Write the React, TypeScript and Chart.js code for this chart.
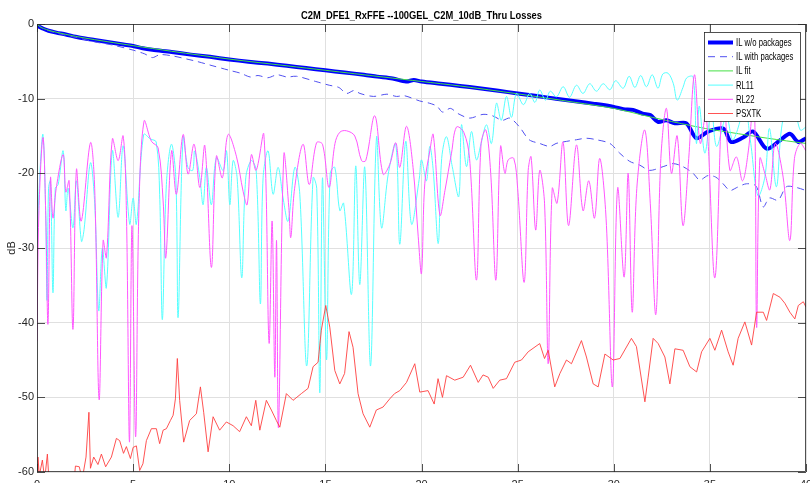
import React, { useEffect, useRef } from 'react';
import { Chart, registerables } from 'chart.js';

Chart.register(...registerables);

const TITLE = 'C2M_DFE1_RxFFE --100GEL_C2M_10dB_Thru Losses';
const Y_LABEL = 'dB';
const X_MIN = 0;
const X_MAX = 40;
const X_STEP = 5;
const Y_MIN = -60;
const Y_MAX = 0;
const Y_STEP = 10;
const SERIES_NAMES = ['IL w/o packages', 'IL with packages', 'IL fit', 'RL11', 'RL22', 'PSXTK'];

type P = [number, number];

const IL_WO: P[] = [
  [0, 0], [0.1, -0.35], [0.3, -0.6], [0.6, -0.9], [1, -1.15], [1.5, -1.4], [2, -1.7], [2.5, -1.95],
  [3, -2.15], [3.5, -2.35], [4, -2.55], [4.5, -2.75], [5, -2.95], [5.5, -3.25], [6, -3.45], [7, -3.75],
  [8, -4.1], [9, -4.4], [10, -4.75], [11, -5.05], [12, -5.3], [13, -5.6], [14, -5.9], [15, -6.2],
  [16, -6.5], [17, -6.8], [17.7, -7.05], [18.5, -7.3], [19.2, -7.7], [19.6, -7.5], [20, -7.7], [21, -8.0],
  [22, -8.3], [23, -8.6], [24, -8.95], [25, -9.3], [26, -9.65], [27, -10.0], [28, -10.35], [29, -10.7],
  [30, -11.1], [30.5, -11.4], [31, -11.5], [31.5, -12.0], [31.9, -12.2], [32.3, -13.1], [32.74, -12.9],
  [33.18, -13.3], [33.78, -13.3], [34.3, -15.3], [34.9, -14.4], [35.7, -14.0], [36.1, -15.8], [36.73, -15.2],
  [37.25, -14.4], [37.95, -16.7], [38.64, -15.6], [39.16, -14.7], [39.6, -15.8], [40, -15.3],
];

const IL_WITH: P[] = [
  [0, 0], [0.3, -0.6], [1, -1.2], [2.2, -1.9], [3, -2.4], [3.9, -2.8], [5, -3.5], [5.6, -4.0],
  [6.0, -4.5], [6.4, -4.1], [7.1, -4.3], [7.8, -4.7], [8.3, -5.0], [9, -5.5], [10, -6.2], [10.6, -6.6],
  [11.1, -7.1], [11.5, -6.9], [12.0, -7.2], [12.5, -6.8], [13.0, -7.1], [13.5, -7.0], [14.5, -7.7],
  [15.2, -8.2], [15.7, -8.5], [16.1, -9.3], [16.5, -8.9], [16.8, -9.3], [17.5, -9.7], [18.2, -9.4],
  [18.7, -9.7], [19.1, -9.6], [19.9, -10.3], [20.4, -10.6], [20.8, -11.0], [21.1, -11.8], [21.5, -11.3],
  [21.9, -12.0], [22.5, -12.6], [23.2, -12.1], [23.7, -12.3], [24.2, -12.9], [24.6, -12.6], [25.1, -13.8],
  [25.6, -15.5], [26.15, -16.0], [26.67, -16.4], [27.0, -16.0], [27.36, -15.8], [28.06, -15.5],
  [28.58, -15.3], [29.1, -15.5], [29.8, -16.0], [30.31, -17.3], [30.83, -18.4], [31.35, -18.9],
  [31.87, -19.6], [32.57, -19.1], [33.09, -18.7], [33.6, -19.1], [34.13, -20.0], [34.47, -20.9],
  [34.9, -20.3], [35.3, -20.5], [35.69, -21.4], [36.04, -22.3], [36.4, -21.9], [36.9, -21.4],
  [37.4, -21.7], [37.77, -24.5], [38.1, -23.3], [38.55, -23.6], [38.98, -21.8], [39.5, -21.9], [40, -22.3],
];

const IL_FIT: P[] = [
  [0, 0], [0.2, -0.45], [0.5, -0.75], [1, -1.1], [2, -1.65], [3, -2.1], [5, -2.9], [7, -3.65],
  [10, -4.7], [13, -5.6], [15, -6.2], [18, -7.1], [20, -7.7], [22, -8.3], [25, -9.35], [28, -10.5],
  [30, -11.3], [32, -12.5], [34, -13.6], [35, -14.1], [36, -14.5], [38, -15.3], [40, -16.0],
];

const RL11: P[] = [
  [0, -29.5], [0.15, -20], [0.31, -14.8], [0.45, -25], [0.52, -37], [0.6, -22], [0.7, -21], [0.83, -36],
  [0.95, -22], [1.1, -21.5], [1.36, -17], [1.5, -25], [1.62, -22], [1.87, -27.3], [2.05, -21], [2.31, -29.1],
  [2.45, -27.5], [2.78, -18.6], [3.0, -24], [3.21, -38.4], [3.4, -30], [3.61, -35.3], [3.92, -17],
  [4.22, -25.9], [4.48, -16.3], [4.82, -26.8], [5.0, -23.3], [5.17, -26.8], [5.55, -14.8], [5.9, -15.4],
  [6.2, -15.8], [6.38, -22.8], [6.52, -39.6], [6.73, -21.5], [6.99, -16.1], [7.22, -20.6], [7.34, -39.3],
  [7.6, -15.2], [7.85, -19.2], [8.1, -19.6], [8.2, -17], [8.47, -20.6], [8.64, -24.2], [8.81, -19.2],
  [9.07, -24.2], [9.33, -17.9], [9.68, -19.6], [9.86, -17], [10.03, -24.2], [10.2, -18.3], [10.41, -20.6],
  [10.65, -34], [10.86, -20.6], [11.15, -18.3], [11.4, -19.6], [11.62, -37.5], [11.76, -20.6], [12.02, -17],
  [12.28, -22.8], [12.54, -19.2], [12.8, -23.3], [13.06, -26.4], [13.41, -19.2], [13.67, -22.8],
  [14.03, -45.8], [14.36, -20.6], [14.55, -22], [14.71, -49.4], [14.85, -20.6], [15.06, -45], [15.25, -20],
  [15.49, -19.2], [15.75, -25], [15.95, -24], [16.36, -36.2], [16.58, -19], [16.79, -34.9], [17.05, -19.2],
  [17.35, -45.8], [17.66, -15.2], [17.92, -27.3], [18.27, -20.1], [18.66, -16.1], [18.87, -29.5],
  [19.18, -15.7], [19.48, -26.8], [19.88, -20.8], [20.0, -18.2], [20.26, -21], [20.43, -16.4],
  [20.61, -19.6], [20.87, -29.4], [21.05, -18], [21.3, -15.1], [21.6, -19.1], [21.94, -23.1], [22.08, -13.5],
  [22.34, -19.1], [22.6, -14.4], [22.86, -18.2], [23.1, -16], [23.38, -13.5], [23.64, -16], [23.9, -10.6],
  [24.15, -12.9], [24.42, -9.7], [24.68, -12.5], [24.94, -9.3], [25.3, -10.8], [25.63, -9.3], [25.9, -10.5],
  [26.15, -8.85], [26.45, -10.2], [26.7, -9.0], [27.02, -9.75], [27.37, -8.4], [27.7, -9.8], [28.06, -8.2],
  [28.4, -9.3], [28.75, -8.0], [29.1, -9.0], [29.45, -8.0], [29.8, -8.8], [30.1, -7.6], [30.49, -8.6],
  [30.8, -7.0], [31.1, -8.5], [31.4, -6.9], [31.7, -8.4], [32.0, -6.8], [32.3, -8.6], [32.55, -6.7],
  [32.83, -6.6], [33.1, -8.0], [33.3, -10.2], [33.6, -8.5], [33.8, -7.2], [34.13, -7.1], [34.3, -16],
  [34.45, -11], [34.74, -17.3], [35.08, -11.5], [35.35, -16.4], [35.86, -12.4], [36.2, -15.5],
  [36.82, -11.5], [37.1, -15.5], [37.5, -23], [37.86, -20.5], [38.1, -14], [38.46, -21.8], [38.8, -12.8],
  [39.33, -10.6], [39.7, -14.2], [40, -13.8],
];

const RL22: P[] = [
  [0, -42.5], [0.1, -25], [0.31, -15.2], [0.45, -25], [0.57, -40.2], [0.7, -20.6], [0.83, -26], [1.0, -22],
  [1.36, -17.5], [1.5, -22.5], [1.67, -21], [1.87, -40.9], [2.05, -19.5], [2.3, -26.4], [2.78, -15.9],
  [3.0, -22], [3.23, -50.3], [3.44, -29], [3.61, -31.3], [3.92, -15.4], [4.22, -18.3], [4.48, -15.0],
  [4.65, -25], [4.81, -56], [4.94, -27], [5.13, -55.3], [5.3, -25], [5.57, -13.0], [5.95, -15.7],
  [6.3, -16.6], [6.56, -23.7], [6.7, -31.3], [7.0, -17], [7.25, -22.8], [7.6, -14.8], [7.86, -20.1],
  [8.17, -16.1], [8.47, -21.9], [8.73, -16.3], [9.07, -32.6], [9.33, -17.7], [9.64, -20.6], [9.94, -14.8],
  [10.37, -17.7], [10.72, -22.4], [10.93, -24.2], [11.15, -17.5], [11.4, -19.6], [11.8, -14.8],
  [12.07, -42.7], [12.23, -26.4], [12.37, -47.3], [12.46, -29], [12.56, -54], [12.84, -17.5], [13.1, -24.6],
  [13.2, -28.6], [13.4, -22], [13.84, -16.1], [14.16, -21.5], [14.54, -15.9], [14.85, -16.1], [15.19, -21.9],
  [15.5, -16], [15.75, -14.5], [16.1, -14.3], [16.53, -15], [16.88, -18.3], [17.1, -18.3], [17.57, -12.3],
  [18.0, -20.1], [18.35, -18.8], [18.66, -15.9], [18.87, -19.2], [19.22, -13.7], [19.56, -19.2],
  [19.83, -28.5], [20.0, -33.4], [20.17, -21.4], [20.44, -16.9], [20.61, -14.8], [20.96, -25.6],
  [21.22, -22.3], [21.56, -17.3], [21.82, -13.8], [22.2, -14.5], [22.5, -18], [22.86, -34.3], [23.1, -16],
  [23.35, -14.2], [23.6, -20], [23.87, -34.3], [24.11, -16.4], [24.34, -20], [24.51, -18.2], [24.8, -18],
  [25.0, -22], [25.34, -34.6], [25.55, -19.6], [25.7, -17.8], [25.94, -27.6], [26.15, -19.6], [26.4, -24],
  [26.59, -45.5], [26.8, -22], [27.05, -24], [27.36, -15.8], [27.65, -27], [28.06, -16.2], [28.4, -25],
  [28.7, -21], [29.0, -26], [29.27, -18], [29.6, -26], [29.93, -48.6], [30.2, -22], [30.54, -33.9],
  [30.75, -20], [30.96, -38.6], [31.2, -22], [31.61, -14.2], [31.9, -24], [32.19, -38.9], [32.45, -18],
  [32.74, -11.3], [33.0, -20], [33.3, -15], [33.6, -27], [33.9, -18], [34.2, -6.8], [34.5, -16], [34.8, -12],
  [35.26, -34], [35.69, -8.4], [36.04, -19.6], [36.38, -17.8], [36.7, -21], [37.0, -17], [37.3, -9.7],
  [37.43, -40.6], [37.6, -18], [37.86, -20], [38.12, -22.2], [38.4, -16], [38.81, -20.5], [39.16, -29],
  [39.4, -18], [39.7, -16], [40, -17],
];

const PSXTK: P[] = [
  [0, -62], [0.05, -58], [0.12, -60.5], [0.28, -58.4], [0.4, -61], [0.54, -57.6], [0.62, -61], [1.0, -63],
  [1.9, -62], [2.0, -59.2], [2.2, -59.3], [2.35, -61], [2.55, -58], [2.7, -52], [2.78, -59.5], [2.95, -58],
  [3.17, -59], [3.35, -57.6], [3.57, -59.3], [3.87, -58], [4.13, -55.5], [4.3, -55.8], [4.5, -57.5],
  [4.65, -56.6], [4.86, -58.2], [5.0, -56.7], [5.17, -56.5], [5.34, -59.8], [5.51, -58.9], [5.69, -55.8],
  [5.95, -54.2], [6.21, -54.2], [6.38, -56.2], [6.56, -54.4], [6.73, -54.2], [6.94, -53.1], [7.08, -52.4],
  [7.2, -50.2], [7.3, -44.8], [7.42, -50.4], [7.63, -56], [7.94, -53.1], [8.29, -52.2], [8.5, -48.6],
  [8.67, -52], [8.9, -57.3], [9.16, -52.6], [9.5, -54.4], [9.85, -53.3], [10.2, -53.8], [10.54, -54.6],
  [10.89, -52.6], [11.15, -53.8], [11.38, -50.4], [11.59, -54.4], [11.93, -50.4], [12.19, -51.7],
  [12.45, -53.1], [12.63, -54], [12.97, -49.5], [13.32, -50.4], [13.75, -49.5], [14.1, -48.8], [14.36, -45.9],
  [14.62, -45.3], [14.79, -41], [15.02, -37.7], [15.23, -40.6], [15.49, -46.4], [15.75, -48.2], [16.0, -46.8],
  [16.23, -41.2], [16.44, -43.3], [16.7, -49.5], [16.96, -52.2], [17.31, -54], [17.65, -51.7], [18.0, -51.3],
  [18.35, -50.2], [18.6, -49.5], [18.87, -49.1], [19.22, -48], [19.65, -45.5], [19.91, -49.3],
  [20.34, -49.1], [20.66, -50.9], [20.86, -47.5], [21.09, -50], [21.3, -47.1], [21.73, -47.7],
  [22.17, -47.3], [22.55, -45.7], [22.95, -48], [23.2, -47], [23.47, -47.3], [23.73, -48.8], [24.07, -47.7],
  [24.42, -47.5], [24.85, -45.3], [25.2, -45], [25.55, -43.9], [26.15, -42.8], [26.4, -44.8], [26.59, -43.7],
  [26.93, -48.6], [27.2, -46.8], [27.54, -45], [27.8, -45.5], [28.32, -42.4], [28.58, -44.6], [28.93, -48.2],
  [29.19, -48.6], [29.54, -44.2], [29.97, -45], [30.32, -44.8], [30.92, -42.1], [31.18, -43.2],
  [31.62, -50.6], [31.79, -47.3], [32.05, -42.1], [32.31, -42.8], [32.66, -44.6], [32.92, -48.2],
  [33.18, -43.5], [33.61, -43.7], [33.96, -45.9], [34.31, -46.6], [34.57, -43.9], [35.0, -42.1],
  [35.26, -43.7], [35.61, -41], [35.95, -43.9], [36.21, -45.7], [36.47, -42.1], [36.82, -39.9], [37.17, -43],
  [37.43, -38.6], [37.78, -38.6], [37.95, -39.7], [38.3, -36.1], [38.65, -36.6], [38.9, -37.4],
  [39.16, -38.6], [39.42, -39.5], [39.6, -37.7], [39.86, -37.2], [40, -37.9],
];

const FONT = '"Liberation Sans", Arial, Helvetica, sans-serif';
const AXIS_COLOR = '#262626';

const toXY = (arr: P[]) => arr.map(([x, y]) => ({ x, y }));

const overlayPlugin = {
  id: 'matlabOverlay',
  afterDraw(chart: any) {
    const { ctx, chartArea: a, scales } = chart;
    ctx.save();
    ctx.strokeStyle = AXIS_COLOR;
    ctx.lineWidth = 0.8;
    ctx.strokeRect(a.left + 0.5, a.top + 0.5, a.right - a.left - 1, a.bottom - a.top - 1);
    const tl = 8;
    ctx.beginPath();
    for (let v = X_MIN; v <= X_MAX; v += X_STEP) {
      const x = Math.round(scales.x.getPixelForValue(v)) + 0.5;
      ctx.moveTo(x, a.bottom); ctx.lineTo(x, a.bottom - tl);
      ctx.moveTo(x, a.top); ctx.lineTo(x, a.top + tl);
    }
    for (let v = Y_MIN; v <= Y_MAX; v += Y_STEP) {
      const y = Math.round(scales.y.getPixelForValue(v)) + 0.5;
      ctx.moveTo(a.left, y); ctx.lineTo(a.left + tl, y);
      ctx.moveTo(a.right, y); ctx.lineTo(a.right - tl, y);
    }
    ctx.stroke();

    // title
    ctx.fillStyle = '#000';
    ctx.font = `bold 11px ${FONT}`;
    ctx.textBaseline = 'middle';
    const tw = ctx.measureText(TITLE).width;
    const target = 241;
    const cx = (a.left + a.right) / 2;
    ctx.save();
    ctx.translate(cx - target / 2, 15.5);
    ctx.scale(target / tw, 1);
    ctx.textAlign = 'left';
    ctx.fillText(TITLE, 0, 0);
    ctx.restore();

    // legend
    const lx = a.right - 102;
    const ly = a.top + 8;
    const lw = 96;
    const lh = 89;
    ctx.fillStyle = '#fff';
    ctx.fillRect(lx, ly, lw, lh);
    ctx.strokeStyle = AXIS_COLOR;
    ctx.lineWidth = 0.8;
    ctx.strokeRect(lx + 0.5, ly + 0.5, lw, lh);
    chart.data.datasets.forEach((d: any, i: number) => {
      const y = ly + 10.5 + i * 14.2;
      ctx.save();
      ctx.strokeStyle = d.borderColor;
      ctx.lineWidth = d.borderWidth;
      ctx.setLineDash(d.borderDash || []);
      ctx.beginPath();
      ctx.moveTo(lx + 4, y);
      ctx.lineTo(lx + 29, y);
      ctx.stroke();
      ctx.restore();
      ctx.save();
      ctx.fillStyle = '#000';
      ctx.font = `11px ${FONT}`;
      ctx.textBaseline = 'middle';
      ctx.translate(lx + 32, y + 0.5);
      ctx.scale(0.7, 1);
      ctx.fillText(d.label, 0, 0);
      ctx.restore();
    });
    ctx.restore();
  },
};

export default function App() {
  const ref = useRef<HTMLCanvasElement | null>(null);
  useEffect(() => {
    if (!ref.current) return;
    const chart = new Chart(ref.current, {
      type: 'line',
      data: {
        datasets: [
          { label: SERIES_NAMES[0], data: toXY(IL_WO), borderColor: '#0000ff', borderWidth: 4, order: 5, tension: 0.3 },
          { label: SERIES_NAMES[1], data: toXY(IL_WITH), borderColor: '#5050f0', borderWidth: 1, borderDash: [7, 5], order: 4, tension: 0.3 },
          { label: SERIES_NAMES[2], data: toXY(IL_FIT), borderColor: '#45e045', borderWidth: 1, order: 3, tension: 0.3 },
          { label: SERIES_NAMES[3], data: toXY(RL11), borderColor: '#55ffff', borderWidth: 1, order: 2, tension: 0.35 },
          { label: SERIES_NAMES[4], data: toXY(RL22), borderColor: '#ff55ff', borderWidth: 1, order: 1, tension: 0.35 },
          { label: SERIES_NAMES[5], data: toXY(PSXTK), borderColor: '#ff4040', borderWidth: 0.9, order: 0, tension: 0 },
        ] as any,
      },
      options: {
        animation: false,
        responsive: false,
        maintainAspectRatio: false,
        elements: { point: { radius: 0 } },
        layout: { padding: { top: 24, right: 4, left: 0, bottom: 0 } },
        plugins: { legend: { display: false }, tooltip: { enabled: false }, title: { display: false } },
        scales: {
          x: {
            type: 'linear', min: X_MIN, max: X_MAX,
            ticks: { stepSize: X_STEP, padding: 6, color: AXIS_COLOR, font: { size: 11, family: FONT }, maxRotation: 0, autoSkip: false },
            grid: { color: '#e0e0e0', drawTicks: false },
            border: { display: false },
            afterFit: (s: any) => { s.height = 28; s.paddingLeft = 0; s.paddingRight = 0; },
          },
          y: {
            type: 'linear', min: Y_MIN, max: Y_MAX,
            ticks: { stepSize: Y_STEP, padding: 3, color: AXIS_COLOR, font: { size: 11, family: FONT } },
            grid: { color: '#e0e0e0', drawTicks: false },
            border: { display: false },
            title: { display: true, text: Y_LABEL, color: AXIS_COLOR, font: { size: 11, family: FONT }, padding: { top: 5, bottom: 0 } },
            afterFit: (s: any) => { s.width = 37; s.paddingTop = 0; s.paddingBottom = 0; },
          },
        },
      } as any,
      plugins: [overlayPlugin],
    });
    return () => chart.destroy();
  }, []);
  return (
    <div style={{ position: 'fixed', left: 0, top: 0, width: 810, height: 483, overflow: 'hidden', background: '#fff' }}>
      <canvas ref={ref} width={810} height={500} style={{ display: 'block', width: 810, height: 500 }} />
    </div>
  );
}
